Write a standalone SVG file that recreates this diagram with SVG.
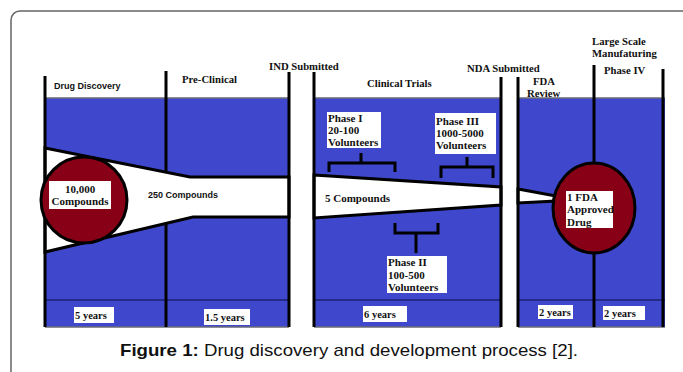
<svg xmlns="http://www.w3.org/2000/svg" width="683" height="372" viewBox="0 0 683 372">
<style>
.blue{fill:#3f48cc}
.edge{stroke:#6a6a78;stroke-width:1.5;fill:none}
.div{stroke:#1c2270;stroke-width:1.5;fill:none}
.ln{stroke:#000;stroke-width:3;fill:none}
.fun{fill:#fff;stroke:#000;stroke-width:3;stroke-linejoin:miter}
.bub{fill:#880015;stroke:#000;stroke-width:3}
.box{fill:#fff}
.t{font-family:"Liberation Serif","Times New Roman",serif;font-weight:bold;font-size:11px;fill:#111}
.h{font-family:"Liberation Serif","Times New Roman",serif;font-weight:bold;font-size:10.7px;fill:#111}
.s{font-family:"Liberation Sans",Arial,sans-serif;font-weight:bold;font-size:9px;fill:#111}
.y{font-family:"Liberation Serif","Times New Roman",serif;font-weight:bold;font-size:10.5px;fill:#111}
.cap{font-family:"Liberation Sans",Arial,sans-serif;font-size:17px;fill:#111}
</style>
<rect x="0" y="0" width="683" height="372" fill="#fff"/>
<rect x="11" y="11" width="700" height="400" rx="9" fill="none" stroke="#666" stroke-width="1.5"/>

<g id="background">
<rect class="blue" x="45" y="98" width="244" height="229"/>
<rect class="blue" x="314" y="98" width="187" height="229"/>
<rect class="blue" x="518" y="98" width="147" height="229"/>
<path class="edge" d="M45,98H289M314,98H501M518,98H665M45,327H289M314,327H501M518,327H665"/>
<path class="div" d="M45,300H289M314,300H501M518,300H665"/>
</g>

<g id="funnels">
<polygon class="fun" points="45,148 190,177 289,177 289,217 193,217 45,252"/>
<polygon class="fun" points="314,175 501,187 501,205 314,218"/>
<polygon class="fun" points="518,189 556,196 556,201 518,203"/>
</g>

<g id="connectors">
<path class="ln" d="M45,76V327M166,71V171M166,223V327M289,72V327M314,72V327M501,77V327M518,77V327M663,69V327M594,65V165M594,250V327"/>
<path class="ln" d="M329,172V163H395V172M361,163V153"/>
<path class="ln" d="M441,178V167H493V178M467,167V157"/>
<path class="ln" d="M395,223V233H438V223M416,233V253"/>
</g>

<g id="headers">
<text class="s" x="54" y="89">Drug Discovery</text>
<text class="h" x="182" y="83">Pre-Clinical</text>
<text class="h" x="269" y="70">IND Submitted</text>
<text class="h" x="367" y="87">Clinical Trials</text>
<text class="h" x="467" y="72">NDA Submitted</text>
<text class="h" x="533" y="85">FDA</text>
<text class="h" x="527" y="97">Review</text>
<text class="h" x="592" y="45">Large Scale</text>
<text class="h" x="592" y="57">Manufaturing</text>
<text class="h" x="604" y="74">Phase IV</text>
</g>

<g id="node-10000">
<circle class="bub" cx="84" cy="200" r="43"/>
<rect class="box" x="49" y="181" width="62" height="28"/>
<text class="t" x="80" y="193" text-anchor="middle">10,000</text>
<text class="t" x="80" y="205" text-anchor="middle">Compounds</text>
</g>

<g id="node-250">
<text class="s" x="148" y="198">250 Compounds</text>
</g>

<g id="node-5">
<text class="t" x="325" y="202">5 Compounds</text>
</g>

<g id="node-phase1">
<rect class="box" x="327" y="112" width="54" height="36"/>
<text class="t" x="328" y="122">Phase I</text>
<text class="t" x="328" y="134">20-100</text>
<text class="t" x="328" y="146">Volunteers</text>
</g>

<g id="node-phase3">
<rect class="box" x="435" y="113" width="61" height="41"/>
<text class="t" x="436" y="125">Phase III</text>
<text class="t" x="436" y="137">1000-5000</text>
<text class="t" x="436" y="149">Volunteers</text>
</g>

<g id="node-phase2">
<rect class="box" x="387" y="256" width="60" height="37"/>
<text class="t" x="388" y="266">Phase II</text>
<text class="t" x="388" y="279">100-500</text>
<text class="t" x="388" y="291">Volunteers</text>
</g>

<g id="node-fda">
<ellipse class="bub" cx="594" cy="208" rx="41" ry="45"/>
<rect class="box" x="566" y="191" width="47" height="37"/>
<text class="t" x="567" y="201">1 FDA</text>
<text class="t" x="567" y="213">Approved</text>
<text class="t" x="567" y="226">Drug</text>
</g>

<g id="years">
<rect class="box" x="74" y="307" width="40" height="16"/>
<text class="y" x="75" y="319">5 years</text>
<rect class="box" x="204" y="309" width="46" height="16"/>
<text class="y" x="205" y="321">1.5 years</text>
<rect class="box" x="363" y="306" width="44" height="16"/>
<text class="y" x="364" y="318">6 years</text>
<rect class="box" x="538" y="305" width="35" height="14"/>
<text class="y" x="539" y="316">2 years</text>
<rect class="box" x="603" y="306" width="42" height="14"/>
<text class="y" x="604" y="317">2 years</text>
</g>

<text class="cap" x="120" y="356" textLength="458" lengthAdjust="spacingAndGlyphs"><tspan font-weight="bold">Figure 1:</tspan> Drug discovery and development process [2].</text>
</svg>
